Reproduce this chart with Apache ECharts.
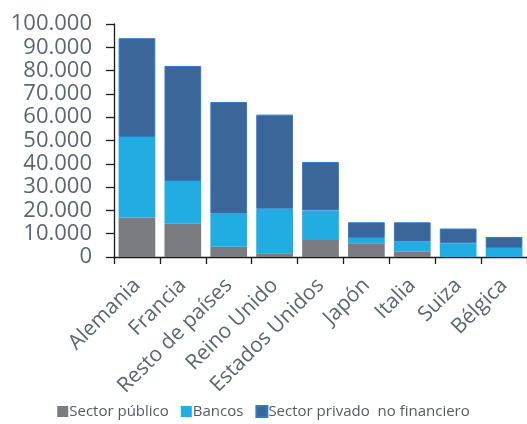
<!DOCTYPE html>
<html>
<head>
<meta charset="utf-8">
<script src="https://cdn.jsdelivr.net/npm/echarts@6/dist/echarts.min.js"></script>
<style>
  html, body { margin: 0; padding: 0; background: #ffffff; }
  #chart { width: 527px; height: 424px; }
</style>
</head>
<body>
<div id="chart"></div>
<script>
// Exposición por país de contrapartida y sector (millones)
const categories = ['Alemania', 'Francia', 'Resto de países', 'Reino Unido', 'Estados Unidos', 'Japón', 'Italia', 'Suiza', 'Bélgica'];
const sectorPublico = [17000, 14300, 4400, 1600, 7300, 5900, 2300, 0, 0];
const bancos = [34500, 18300, 14200, 19100, 12700, 2300, 4300, 5900, 3900];
const sectorPrivado = [42400, 49400, 47900, 40400, 20800, 6700, 8300, 6300, 4700];
const seriesNames = ['Sector público', 'Bancos', 'Sector privado  no financiero'];

const textColor = '#5b6670';
const fontFamily = '"Open Sans", "Noto Sans", sans-serif';

const chart = echarts.init(document.getElementById('chart'), null, { renderer: 'canvas' });

function fmt(v) {
  return String(v).replace(/\B(?=(\d{3})+(?!\d))/g, '.');
}

chart.setOption({
  animation: false,
  textStyle: { fontFamily: fontFamily },
  grid: { left: 114, top: 24, width: 416, bottom: 167, containLabel: false },
  legend: {
    data: seriesNames,
    bottom: 0,
    left: 'center',
    itemWidth: 11,
    itemHeight: 11,
    itemGap: 12,
    icon: 'rect',
    textStyle: { color: '#555a60', fontSize: 15, fontFamily: fontFamily, padding: [0, 0, 0, -4] }
  },
  xAxis: {
    type: 'category',
    data: categories,
    axisLine: { lineStyle: { color: '#1a1a1a', width: 1.3 } },
    axisTick: { show: true, alignWithLabel: false, length: 7, lineStyle: { color: '#1a1a1a', width: 1.3 } },
    axisLabel: { rotate: 45, color: textColor, fontSize: 21, margin: 25, interval: 0 }
  },
  yAxis: {
    type: 'value',
    min: 0,
    max: 100000,
    interval: 10000,
    splitLine: { show: false },
    axisLine: { show: true, lineStyle: { color: '#1a1a1a', width: 1.3 } },
    axisTick: { show: true, length: 8, lineStyle: { color: '#1a1a1a', width: 1.3 } },
    axisLabel: { color: textColor, fontSize: 22, margin: 22, formatter: fmt }
  },
  series: [
    {
      name: seriesNames[0], type: 'bar', stack: 'total', data: sectorPublico,
      barCategoryGap: '20%',
      itemStyle: { color: '#7b7c81' }
    },
    {
      name: seriesNames[1], type: 'bar', stack: 'total', data: bancos,
      itemStyle: { color: '#21ace2' }
    },
    {
      name: seriesNames[2], type: 'bar', stack: 'total', data: sectorPrivado,
      itemStyle: { color: '#3a6699', borderColor: '#2b7bcc', borderWidth: 1 }
    }
  ]
});
</script>
</body>
</html>
